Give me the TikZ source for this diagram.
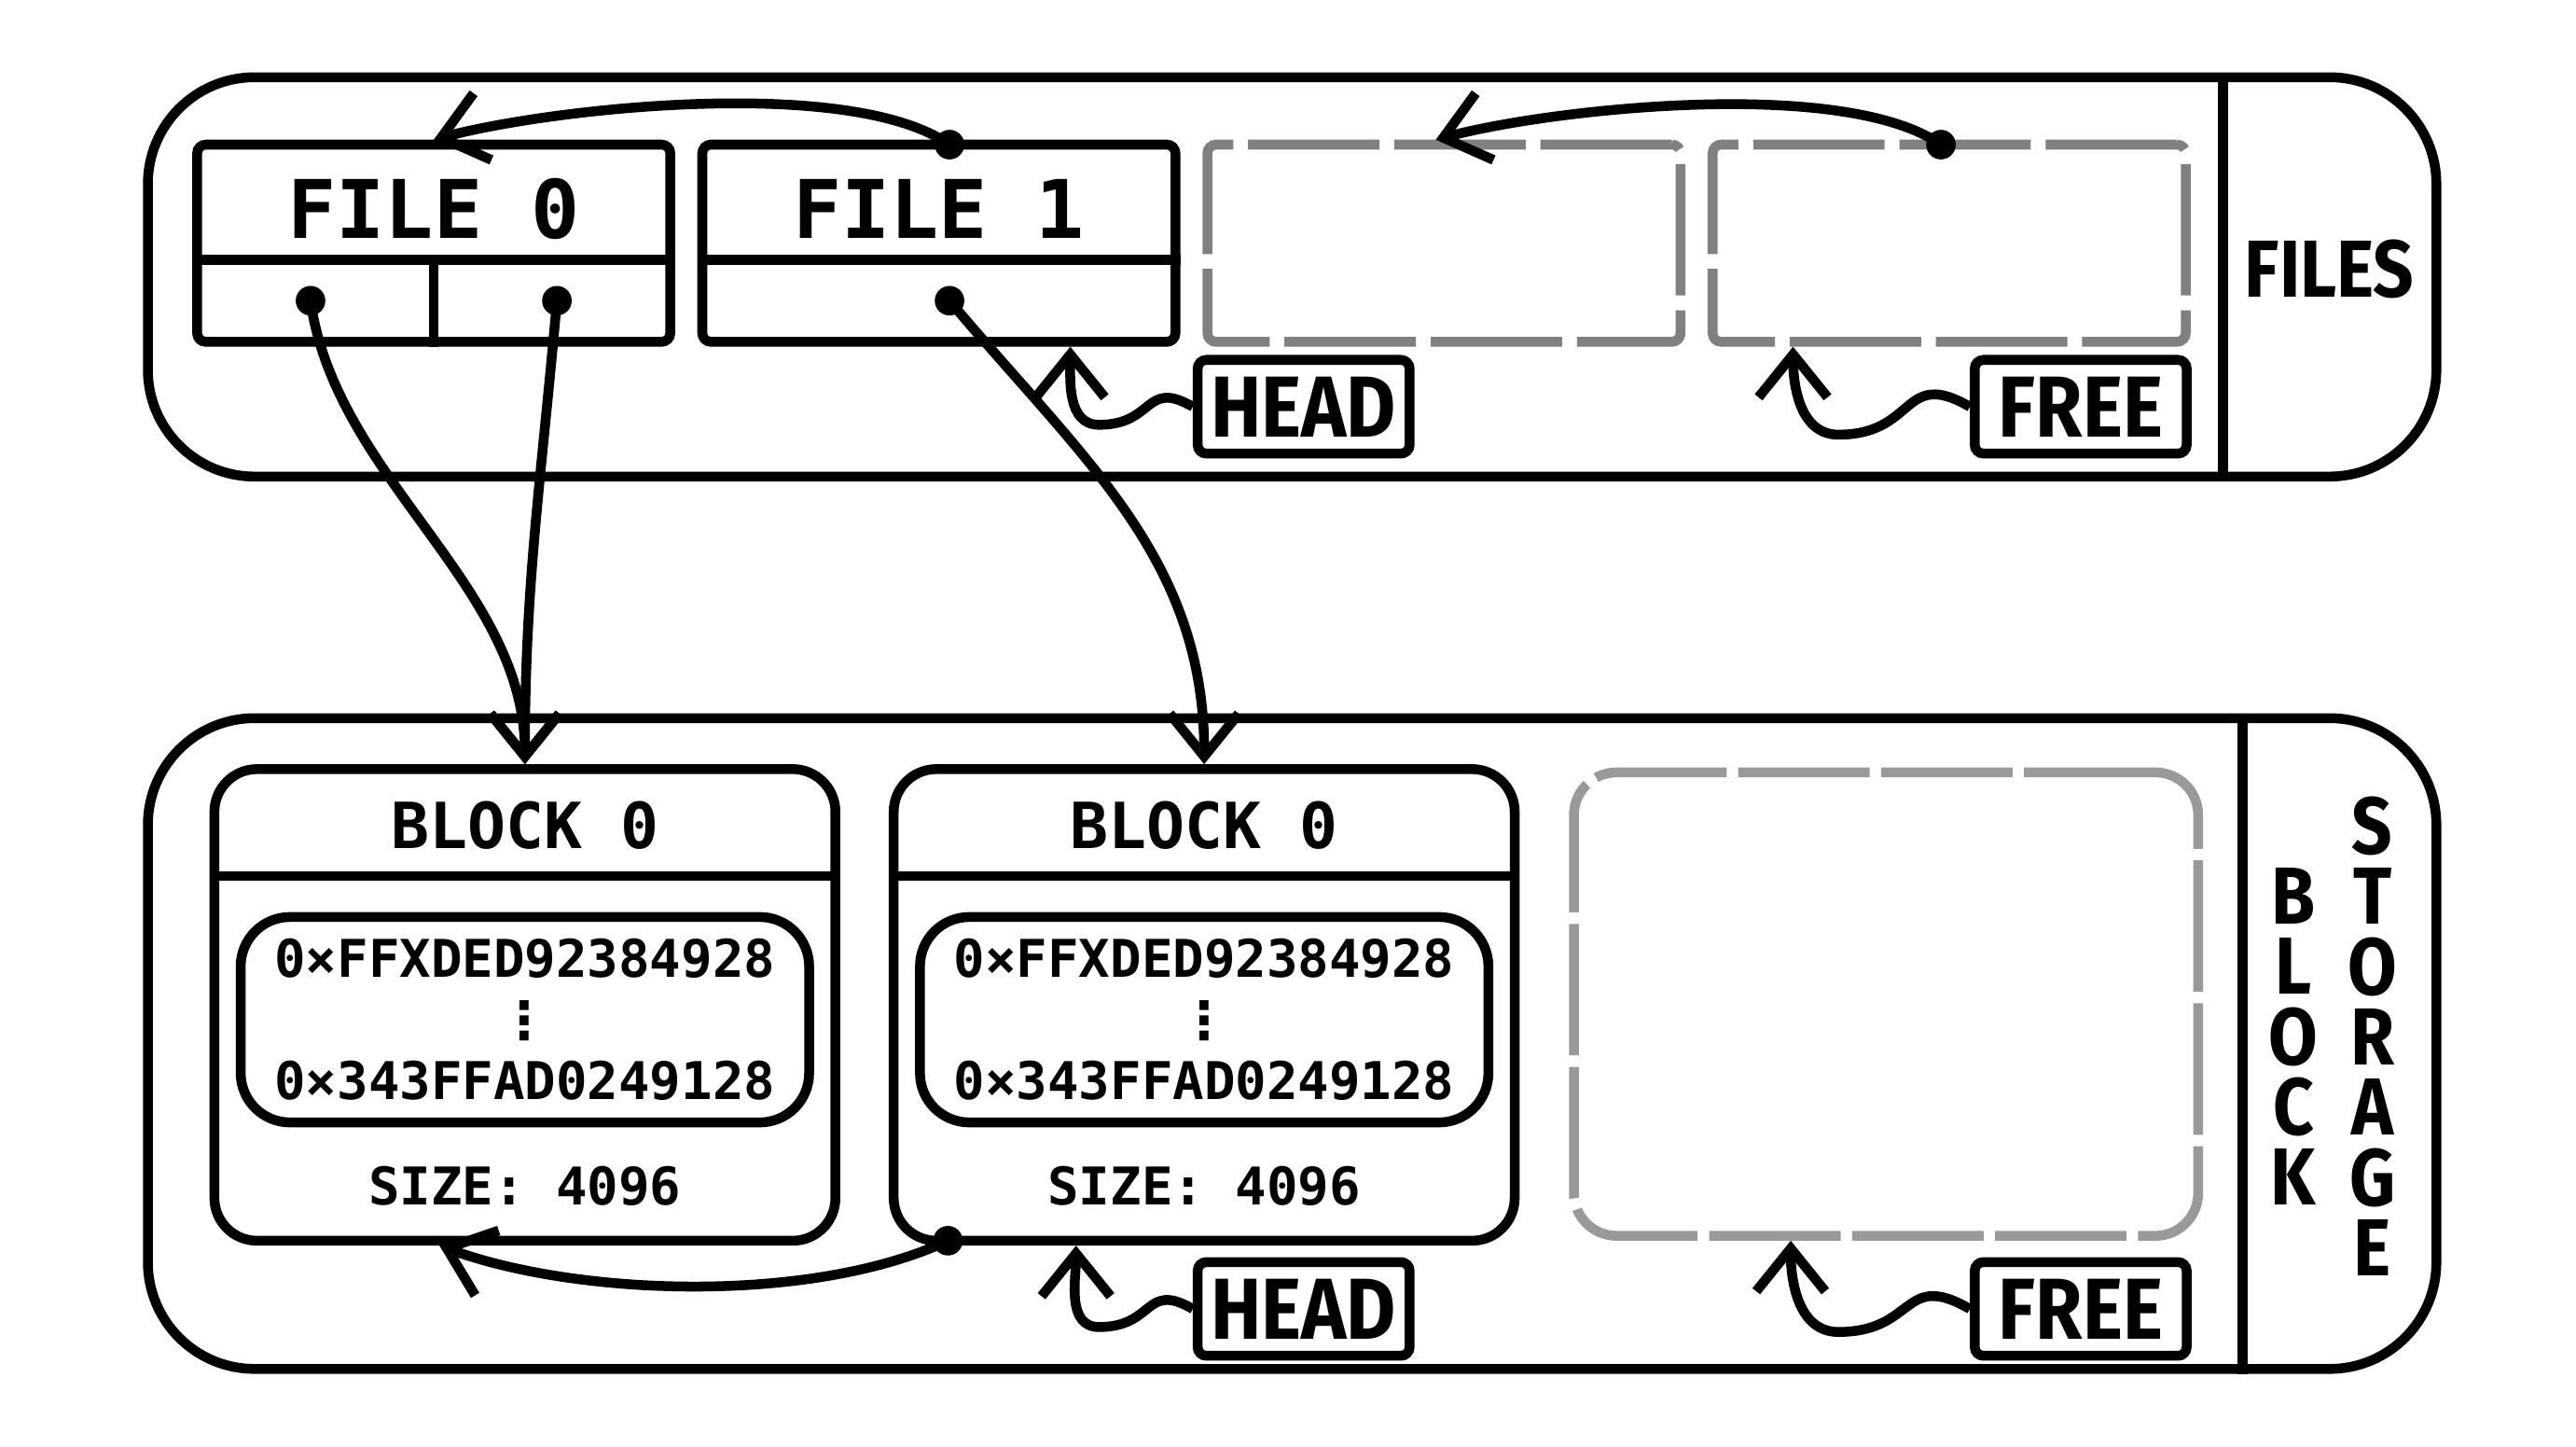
\documentclass[tikz,border=0pt]{standalone}
\usepackage{fontspec}
\setmonofont{DejaVu Sans Mono}
\newfontfamily\tagfont{Fira Sans}[FakeStretch=0.88]
\newfontfamily\dotsfont{DejaVu Sans}
\usetikzlibrary{arrows.meta,positioning}

\begin{document}
\begin{tikzpicture} [
    line width = 1.7pt,
    panel/.style = { draw, rounded corners = 0.65cm, minimum width = 13.93cm },
    file/.style = { draw, rounded corners = 1.5pt, minimum width = 2.88cm, minimum height = 1.2cm, inner sep = 0 },
    slot/.style = { file, draw = black!50, dash pattern = on 0.8cm off 0.09cm },
    block/.style = { draw, rounded corners = 0.26cm, minimum width = 3.78cm, minimum height = 2.87cm, inner sep = 0 },
    emptyblock/.style = { block, draw = black!40, dash pattern = on 0.8cm off 0.07cm, minimum width = 3.8cm, minimum height = 2.82cm },
    words/.style = { draw, rounded corners = 0.3cm, minimum width = 3.46cm, minimum height = 1.25cm, inner sep = 0, align = center, font = \ttfamily\bfseries\fontsize{9}{10.6}\selectfont },
    filelabel/.style = { font = \ttfamily\bfseries\fontsize{14}{16}\selectfont },
    blocklabel/.style = { font = \ttfamily\bfseries\fontsize{11}{13}\selectfont },
    sizelabel/.style = { font = \ttfamily\bfseries\fontsize{9}{11}\selectfont },
    tag/.style = { draw, rounded corners = 1.5pt, minimum width = 1.29cm, minimum height = 0.57cm, inner sep = 0, font = \tagfont\bfseries\fontsize{15}{18}\selectfont },
    sidelabel/.style = { inner sep = 0, font = \tagfont\bfseries\fontsize{14}{16}\selectfont },
    dotnode/.style = { circle, fill, inner sep = 0, minimum size = 0.18cm },
    ptr/.style = { -{Straight Barb[length = 0.26cm, width = 0.42cm]} }
    ]

    \useasboundingbox (0,0) rectangle (15.68,8.8);

    % files
    \node[panel, minimum height = 2.43cm] (files) at (7.865,7.115) {};
    \draw ([xshift=-1.33cm]files.north east) -- ([xshift=-1.33cm]files.south east);
    \node[sidelabel] at ([xshift=-0.68cm,yshift=0.05cm]files.east) {FILES};

    \node[file] (f0) at (2.64,7.32) {};
    \node[file, right = 0.135cm of f0] (f1) {};
    \node[slot, right = 0.135cm of f1] (f2) {};
    \node[slot, right = 0.135cm of f2] (f3) {};
    \node[filelabel] at ([yshift=-0.42cm]f0.north) {FILE 0};
    \node[filelabel] at ([yshift=-0.42cm]f1.north) {FILE 1};
    \draw ([yshift=0.53cm]f0.south west) -- ([yshift=0.53cm]f0.south east);
    \draw ([yshift=0.53cm]f1.south west) -- ([yshift=0.53cm]f1.south east);
    \draw (f0.south) -- ([yshift=0.53cm]f0.south);

    \node[dotnode] (d0) at ([xshift=0.72cm,yshift=0.28cm]f0.south west) {};
    \node[dotnode] (d1) at ([xshift=-0.72cm,yshift=0.28cm]f0.south east) {};
    \node[dotnode] (d2) at ([xshift=0.065cm,yshift=0.28cm]f1.south) {};
    \node[dotnode] (d3) at ([xshift=0.065cm,yshift=-0.03cm]f1.north) {};
    \node[dotnode] (d4) at ([xshift=-0.05cm,yshift=-0.03cm]f3.north) {};

    \node[tag] (h0) at (7.935,6.325) {HEAD};
    \node[tag] (r0) at (12.665,6.325) {FREE};

    % blocks
    \node[panel, minimum height = 3.96cm] (store) at (7.865,2.45) {};
    \draw ([xshift=-1.21cm]store.north east) -- ([xshift=-1.21cm]store.south east);
    \foreach \l [count=\i] in {B,L,O,C,K}
        \node[sidelabel] (bl\i) at ([xshift=-0.9cm,yshift=1.325cm-\i*0.4275cm]store.east) {\l};
    \foreach \l [count=\i] in {S,T,O,R,A,G,E}
        \node[sidelabel] (st\i) at ([xshift=-0.42cm,yshift=1.75cm-\i*0.4275cm]store.east) {\l};

    \node[block] (b0) at (3.195,2.685) {};
    \node[block, right = 0.295cm of b0] (b1) {};
    \node[emptyblock] (b2) at (11.48,2.69) {};
    \foreach \b in {b0,b1} {
        \node[blocklabel] at ([yshift=-0.37cm]\b.north) {BLOCK 0};
        \draw ([yshift=-0.68cm]\b.north west) -- ([yshift=-0.68cm]\b.north east);
        \node[words] at ([yshift=-0.09cm]\b.center) {0×FFXDED92384928\\{\dotsfont ⋮}\\0×343FFAD0249128};
        \node[sizelabel] at ([yshift=0.36cm]\b.south) {SIZE: 4096};
    }
    \node[dotnode] (d5) at ([xshift=0.36cm,yshift=0.03cm]b1.south west) {};

    \node[tag] (h1) at (7.935,0.835) {HEAD};
    \node[tag] (r1) at (12.665,0.835) {FREE};

    % pointers
    \draw[ptr] (d3.center) to[out=145, in=15, looseness=0.6] (f0.north);
    \draw[ptr] (d4.center) to[out=145, in=15, looseness=0.6] ([xshift=-0.05cm]f2.north);
    \draw[ptr] (d0.center) to[out=-82, in=90, looseness=0.9] (b0.north);
    \draw[ptr] (d1.center) to[out=-95, in=90] (b0.north);
    \draw[ptr] (d2.center) to[out=-50, in=90] (b1.north);
    \draw[ptr] (d5.center) to[out=-155, in=-20, looseness=0.75] ([xshift=-0.52cm]b0.south);

    \draw[ptr] (h0.west) to[out=150, in=0, looseness=1.5] ++(-0.57,-0.11) to[out=180, in=-90] ([xshift=0.8cm]f1.south);
    \draw[ptr] (r0.west) to[out=150, in=0, looseness=1.5] ++(-0.8,-0.17) to[out=180, in=-90] ([xshift=-0.95cm]f3.south);
    \draw[ptr] (h1.west) to[out=150, in=0, looseness=1.5] ++(-0.57,-0.11) to[out=180, in=-90] ([xshift=-0.78cm]b1.south);
    \draw[ptr] (r1.west) to[out=150, in=0, looseness=1.5] ++(-0.8,-0.14) to[out=180, in=-90] ([xshift=-0.58cm]b2.south);

\end{tikzpicture}
\end{document}
